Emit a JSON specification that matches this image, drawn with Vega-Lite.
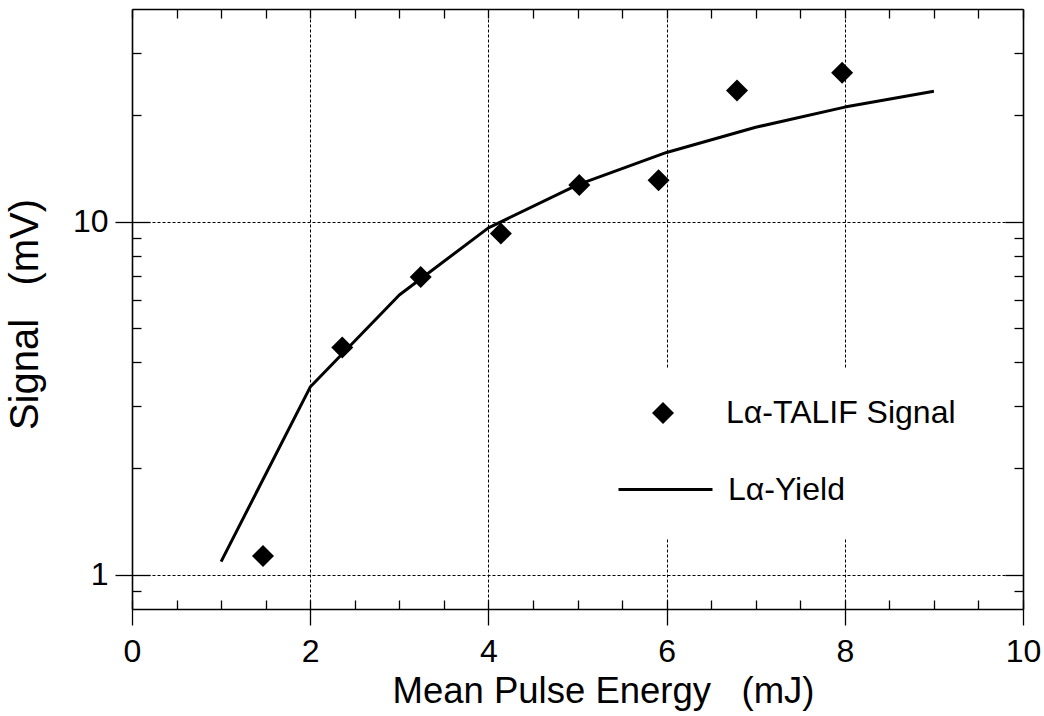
{
  "$schema": "https://vega.github.io/schema/vega-lite/v6.json",
  "width": 891,
  "height": 600,
  "autosize": {"type": "none"},
  "padding": {"left": 132, "top": 9, "right": 21, "bottom": 107},
  "background": "white",
  "config": {
    "view": {"stroke": null},
    "font": "Liberation Sans",
    "axis": {
      "domain": false,
      "grid": false,
      "labels": false,
      "ticks": true,
      "tickColor": "black",
      "tickWidth": 1.3,
      "title": null,
      "domainColor": "black",
      "domainWidth": 1.6,
      "gridColor": "black",
      "gridWidth": 1,
      "gridOpacity": 1,
      "gridDash": [3, 2],
      "labelColor": "black",
      "labelFont": "Liberation Sans",
      "labelFontSize": 32,
      "labelFlush": false,
      "titleColor": "black",
      "titleFont": "Liberation Sans",
      "titleFontSize": 36.5,
      "titleFontWeight": "normal"
    }
  },
  "datasets": {
    "talif": [
      {"energy": 1.47, "signal": 1.13, "series": "Lα-TALIF Signal"},
      {"energy": 2.36, "signal": 4.40, "series": "Lα-TALIF Signal"},
      {"energy": 3.24, "signal": 6.97, "series": "Lα-TALIF Signal"},
      {"energy": 4.14, "signal": 9.25, "series": "Lα-TALIF Signal"},
      {"energy": 5.02, "signal": 12.7, "series": "Lα-TALIF Signal"},
      {"energy": 5.91, "signal": 13.1, "series": "Lα-TALIF Signal"},
      {"energy": 6.79, "signal": 23.5, "series": "Lα-TALIF Signal"},
      {"energy": 7.97, "signal": 26.4, "series": "Lα-TALIF Signal"}
    ],
    "yield": [
      {"energy": 1.0, "signal": 1.09, "series": "Lα-Yield"},
      {"energy": 2.0, "signal": 3.40, "series": "Lα-Yield"},
      {"energy": 3.0, "signal": 6.2, "series": "Lα-Yield"},
      {"energy": 4.0, "signal": 9.6, "series": "Lα-Yield"},
      {"energy": 5.0, "signal": 12.7, "series": "Lα-Yield"},
      {"energy": 6.0, "signal": 15.7, "series": "Lα-Yield"},
      {"energy": 7.0, "signal": 18.5, "series": "Lα-Yield"},
      {"energy": 8.0, "signal": 21.1, "series": "Lα-Yield"},
      {"energy": 9.0, "signal": 23.4, "series": "Lα-Yield"}
    ]
  },
  "layer": [
    {
      "description": "Dotted grid lines and the inward major ticks on the left",
      "data": {"name": "talif"},
      "mark": {"type": "point", "opacity": 0},
      "encoding": {
        "x": {
          "field": "energy", "type": "quantitative",
          "scale": {"domain": [0, 10], "nice": false, "zero": false},
          "axis": {"orient": "bottom", "values": [2, 4, 6, 8], "ticks": false, "grid": true}
        },
        "y": {
          "field": "signal", "type": "quantitative",
          "scale": {"type": "log", "domain": [0.8, 40], "nice": false},
          "axis": {"orient": "left", "values": [1, 10], "tickSize": -18, "grid": true}
        }
      }
    },
    {
      "description": "Modelled yield curve, bottom axis with labels, left axis with labels",
      "data": {"name": "yield"},
      "mark": {"type": "line", "color": "black", "strokeWidth": 3, "strokeJoin": "round"},
      "encoding": {
        "x": {
          "field": "energy", "type": "quantitative",
          "axis": {
            "orient": "bottom", "values": [0, 2, 4, 6, 8, 10],
            "domain": true, "labels": true, "tickSize": 16, "labelPadding": 11,
            "title": "Mean Pulse Energy\u00a0\u00a0\u00a0(mJ)",
            "titleX": 471, "titleY": 93, "titleBaseline": "alphabetic"
          }
        },
        "y": {
          "field": "signal", "type": "quantitative",
          "axis": {
            "orient": "left", "values": [1, 10], "format": "d",
            "domain": true, "labels": true, "tickSize": 17, "labelPadding": 7,
            "title": "Signal\u00a0\u00a0\u00a0(mV)",
            "titleFontSize": 40,
            "titleX": -95, "titleY": 305, "titleBaseline": "alphabetic", "titleAngle": -90
          }
        },
        "stroke": {
          "field": "series", "type": "nominal",
          "scale": {"range": ["black"]},
          "legend": {
            "orient": "none", "legendX": 452, "legendY": 399,
            "title": null, "padding": 33, "fillColor": "white",
            "symbolType": "stroke", "symbolSize": 8836,
            "symbolStrokeColor": "black", "symbolStrokeWidth": 3,
            "labelOffset": 14, "labelLimit": 400, "labelFont": "Liberation Sans",
            "labelFontSize": 32, "labelColor": "black"
          }
        }
      }
    },
    {
      "description": "Measured TALIF signal, inward minor ticks bottom and left",
      "data": {"name": "talif"},
      "mark": {"type": "point", "filled": true, "color": "black", "size": 484, "opacity": 1},
      "encoding": {
        "x": {
          "field": "energy", "type": "quantitative",
          "axis": {
            "orient": "bottom", "tickSize": -9,
            "values": [0, 0.5, 1, 1.5, 2, 2.5, 3, 3.5, 4, 4.5, 5, 5.5, 6, 6.5, 7, 7.5, 8, 8.5, 9, 9.5, 10]
          }
        },
        "y": {
          "field": "signal", "type": "quantitative",
          "axis": {"orient": "left", "tickSize": -9, "values": [0.9, 2, 3, 4, 5, 6, 7, 8, 9, 20, 30]}
        },
        "shape": {
          "field": "series", "type": "nominal",
          "scale": {"range": ["diamond"]},
          "legend": {
            "orient": "none", "legendX": 487, "legendY": 360,
            "title": null, "padding": 28, "fillColor": "white",
            "symbolSize": 484, "symbolFillColor": "black",
            "symbolStrokeWidth": 0, "symbolOpacity": 1,
            "labelOffset": 47, "labelLimit": 400, "labelFont": "Liberation Sans",
            "labelFontSize": 32, "labelColor": "black"
          }
        }
      }
    },
    {
      "description": "Top and right frame with inward minor ticks",
      "data": {"name": "talif"},
      "mark": {"type": "point", "opacity": 0},
      "encoding": {
        "x": {
          "field": "energy", "type": "quantitative",
          "axis": {
            "orient": "top", "domain": true, "tickSize": -9,
            "values": [0, 0.5, 1, 1.5, 2, 2.5, 3, 3.5, 4, 4.5, 5, 5.5, 6, 6.5, 7, 7.5, 8, 8.5, 9, 9.5, 10]
          }
        },
        "y": {
          "field": "signal", "type": "quantitative",
          "axis": {"orient": "right", "domain": true, "tickSize": -9, "values": [0.9, 2, 3, 4, 5, 6, 7, 8, 9, 20, 30]}
        }
      }
    },
    {
      "description": "Inward major ticks on the right",
      "data": {"name": "talif"},
      "mark": {"type": "point", "opacity": 0},
      "encoding": {
        "x": {"field": "energy", "type": "quantitative", "axis": null},
        "y": {
          "field": "signal", "type": "quantitative",
          "axis": {"orient": "right", "tickSize": -18, "values": [1, 10]}
        }
      }
    }
  ],
  "resolve": {"axis": {"x": "independent", "y": "independent"}}
}
